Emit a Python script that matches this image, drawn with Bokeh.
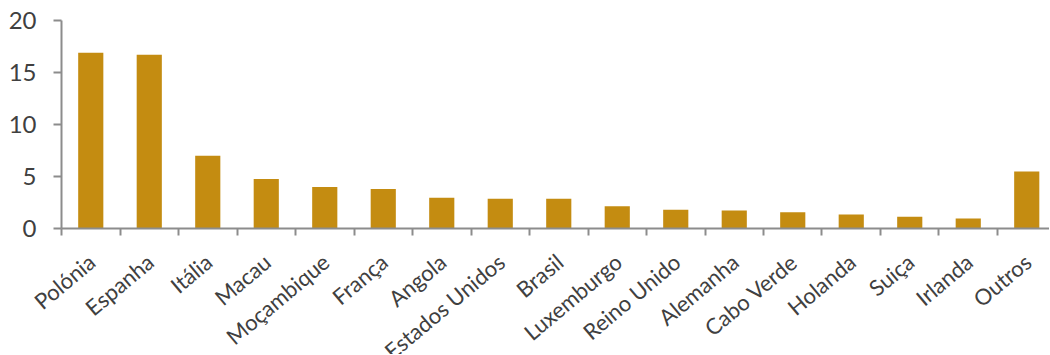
from bokeh.plotting import figure
from bokeh.models import Range1d, FixedTicker, ColumnDataSource, LabelSet, LinearAxis
from bokeh.core.properties import value
from bokeh.embed import file_html
from bokeh.resources import INLINE

categories = ["Polónia", "Espanha", "Itália", "Macau", "Moçambique", "França", "Angola",
              "Estados Unidos", "Brasil", "Luxemburgo", "Reino Unido", "Alemanha",
              "Cabo Verde", "Holanda", "Suiça", "Irlanda", "Outros"]
values = [16.9, 16.7, 7.0, 4.75, 4.0, 3.8, 2.95, 2.85, 2.85, 2.15, 1.8, 1.73, 1.57, 1.35, 1.12, 0.96, 5.48]
y_ticks = [0, 5, 10, 15, 20]

n = len(categories)
centers = [i + 0.5 for i in range(n)]
bounds = [i for i in range(n + 1)]

src = ColumnDataSource(dict(x=centers, top=values, base=[0] * n, name=categories))
ysrc = ColumnDataSource(dict(x=[0] * len(y_ticks), y=y_ticks, t=[str(v) for v in y_ticks]))

p = figure(width=1049, height=354, output_backend="svg", toolbar_location=None,
           x_range=Range1d(-1.043, 16.889), y_range=Range1d(-12.115, 21.923),
           x_axis_location=None, y_axis_location=None,
           min_border_left=0, min_border_right=0, min_border_top=0, min_border_bottom=0)
p.outline_line_color = None
p.grid.visible = False
p.background_fill_color = "white"

p.vbar(x="x", top="top", width=0.43, source=src, fill_color="#C48C11", line_color=None)

font = "Lato"
txt = "#404040"
axc = "#8c8c8c"

xa = LinearAxis(fixed_location=0, bounds=(0, 17))
xa.ticker = FixedTicker(ticks=bounds)
xa.major_label_overrides = {b: "" for b in bounds}
xa.major_label_text_font_size = "0px"
xa.major_label_standoff = 0
xa.major_tick_line_color = axc
xa.major_tick_line_width = 2
xa.major_tick_out = 7
xa.major_tick_in = 0
xa.minor_tick_line_color = None
xa.axis_line_color = axc
xa.axis_line_width = 2
p.add_layout(xa, "below")

ya = LinearAxis(fixed_location=0, bounds=(0, 20))
ya.ticker = FixedTicker(ticks=y_ticks)
ya.major_label_overrides = {v: "" for v in y_ticks}
ya.major_label_text_font_size = "0px"
ya.major_label_standoff = 0
ya.minor_tick_line_color = None
ya.major_tick_line_color = axc
ya.major_tick_line_width = 2
ya.major_tick_out = 8
ya.major_tick_in = 0
ya.axis_line_color = axc
ya.axis_line_width = 2
p.add_layout(ya, "left")

labels = LabelSet(x="x", y="base", text="name", source=src, angle=40, angle_units="deg",
                  text_align="right", text_baseline="middle", y_offset=-30, x_offset=1,
                  text_font=value(font), text_font_size="22px", text_color=txt)
p.add_layout(labels)

ylabels = LabelSet(x="x", y="y", text="t", source=ysrc, x_offset=-25,
                   text_align="right", text_baseline="middle",
                   text_font=value(font), text_font_size="24px", text_color=txt)
p.add_layout(ylabels)

open("out.html", "w").write(file_html(p, INLINE))
